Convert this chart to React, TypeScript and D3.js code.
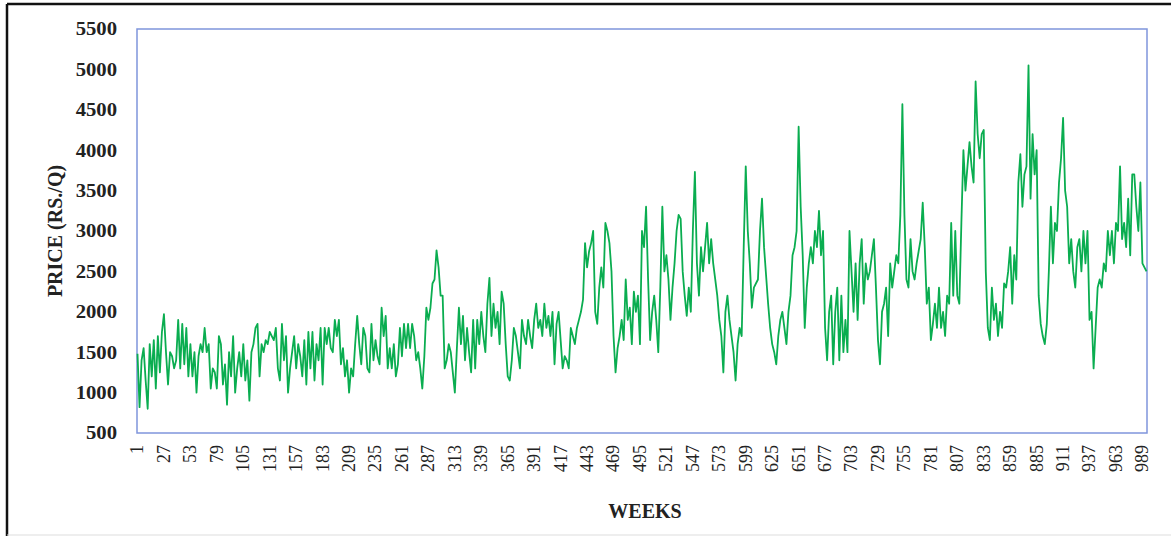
import * as d3 from "d3";

// weekly prices (Rs./Q), read every second week from the chart
const pricesA = [
  1480, 820, 1400, 1550, 1150, 800, 1600, 1200, 1650, 1050, 1700, 1250, 1750,
  1970, 1500, 1100, 1500, 1450, 1300, 1400, 1900, 1300, 1850, 1350, 1800, 1200,
  1600, 1200, 1500, 1000, 1450, 1600, 1500, 1800, 1500, 1600, 1050, 1300, 1250,
  1050, 1700, 1600, 1100, 1350, 850, 1500, 1200, 1700, 1000, 1300, 1500, 1200,
  1600, 1150, 1400, 900, 1500, 1600, 1800, 1850, 1200, 1600, 1500, 1650, 1600,
  1750, 1700, 1650, 1800, 1300, 1150, 1850, 1400, 1700, 1000, 1300, 1500, 1700,
  1300, 1600, 1450, 1200, 1650, 1100, 1750, 1300, 1750, 1150, 1600, 1400, 1800,
  1100, 1800, 1600, 1800, 1550, 1500, 1900, 1700, 1900, 1350, 1550, 1200, 1400,
  1000, 1300, 1200, 1600, 1950, 1600, 1350, 1800, 1700, 1300, 1250, 1850, 1400,
  1650, 1450, 1350, 2050, 1700, 1950, 1300, 1550, 1300, 1600, 1200, 1350, 1800,
];
const pricesB = [
  1450, 1850, 1550, 1850, 1550, 1850, 1700, 1400, 1500, 1300, 1050, 1450, 2050,
  1900, 2050, 2350, 2400, 2760, 2550, 2200, 2200, 1300, 1400, 1600, 1500, 1250,
  1000, 1550, 2050, 1600, 1950, 1400, 1800, 1500, 1250, 1900, 1300, 1900, 1600,
  2000, 1700, 1500, 2100, 2420, 1700, 2100, 1800, 2000, 1600, 2250, 2100, 1600,
  1200, 1150, 1400, 1800, 1700, 1500, 1300, 1900, 1700, 1600, 1900, 1700, 1550,
  1900, 2100, 1800, 1900, 1700, 2100, 1800, 1950, 1700, 2000, 1350, 1850, 2000,
  1650, 1300, 1450, 1400, 1300, 1800, 1700, 1600, 1800, 1900, 2000, 2150, 2850,
  2550, 2750, 2850, 3000, 2000, 1850, 2300, 2550, 2300, 3100, 3000, 2850, 2500,
  1700, 1250, 1550, 1700, 1900, 1650, 2400, 1900, 2050, 1600, 2250, 2000, 2200,
  1600, 3000, 2800, 3300, 2400, 1650, 2000, 2200, 1900, 1500, 2300, 3300, 2500,
];
const pricesC = [
  2700, 2400, 1900, 2300, 2600, 3000, 3200, 3150, 2500, 2200, 1950, 2300, 2000,
  3000, 3730, 2600, 2200, 2800, 2500, 2800, 3100, 2600, 2900, 2600, 2400, 2200,
  1900, 1700, 1250, 2000, 2200, 1900, 1700, 1500, 1150, 1600, 1800, 1700, 2800,
  3800, 3000, 2600, 2050, 2300, 2350, 2400, 3000, 3400, 2800, 2450, 2100, 1800,
  1600, 1500, 1350, 1700, 1900, 2000, 1800, 1600, 2000, 2200, 2700, 2800, 3000,
  4290, 3300, 2700, 1800, 2300, 2600, 2800, 2600, 3000, 2800, 3250, 2700, 3000,
  1800, 1400, 2000, 2200, 1350, 2000, 2300, 1400, 2200, 1500, 1900, 1500, 3000,
  2500, 2000, 2600, 1900, 2600, 2900, 2100, 2600, 2400, 2500, 2700, 2900, 2300,
  1650, 1350, 2000, 2100, 2300, 1700, 2600, 2300, 2500, 2700, 2600, 3200, 4570,
  3200, 2400, 2300, 2900, 2500, 2400, 2600, 2750, 2900, 3350, 2800, 2100, 2300,
];
const pricesD = [
  1650, 1850, 2100, 1800, 2300, 1800, 2000, 1700, 2200, 2100, 3100, 2200, 3000,
  2200, 2100, 3100, 4000, 3500, 3800, 4100, 3800, 3600, 4850, 4200, 3900, 4200,
  4250, 2500, 1800, 1650, 2300, 1900, 2100, 1700, 2000, 1800, 2350, 2300, 2500,
  2800, 2100, 2700, 2400, 3600, 3950, 3300, 3700, 3800, 5050, 3400, 4200, 3700,
  4000, 2200, 1850, 1700, 1600, 1850, 2500, 3300, 2600, 3100, 3000, 3600, 3900,
  4400, 3500, 3300, 2600, 2900, 2500, 2300, 2800, 2900, 2500, 3000, 2600, 3000,
  1900, 2000, 1300, 1800, 2300, 2400, 2300, 2600, 2500, 3000, 2700, 3000, 2600,
  3100, 3000, 3800, 2900, 3100, 2800, 3400, 2700, 3700, 3700, 3300, 3000, 3600,
  2600, 2550, 2500,
];

const yTicks = [500, 1000, 1500, 2000, 2500, 3000, 3500, 4000, 4500, 5000, 5500];
const xTickLabels = [
  1, 27, 53, 79, 105, 131, 157, 183, 209, 235, 261, 287, 313, 339, 365, 391, 417,
  443, 469, 495, 521, 547, 573, 599, 625, 651, 677, 703, 729, 755, 781, 807, 833,
  859, 885, 911, 937, 963, 989,
];

const N_WEEKS = 993;
const WIDTH = 1171;
const HEIGHT = 536;
const PLOT = { left: 137, right: 1147, top: 29, bottom: 433 };
const FONT = "'Liberation Serif', 'Times New Roman', serif";

type Point = { week: number; price: number };

const prices = [...pricesA, ...pricesB, ...pricesC, ...pricesD];
const data: Point[] = prices.map((p, i) => ({ week: 1 + 2 * i, price: p }));

export default function App() {
  const x = d3
    .scaleLinear()
    .domain([0.5, N_WEEKS + 0.5])
    .range([PLOT.left, PLOT.right]);
  const y = d3
    .scaleLinear()
    .domain([500, 5500])
    .range([PLOT.bottom, PLOT.top]);

  const line = d3
    .line<Point>()
    .x((d) => x(d.week))
    .y((d) => y(d.price));

  return (
    <svg
      width={WIDTH}
      height={HEIGHT}
      style={{ position: "absolute", left: 0, top: 0, background: "#fff" }}
    >
      {/* outer frame */}
      <line x1={7} x2={WIDTH} y1={4} y2={4} stroke="#111" strokeWidth={2.5} />
      <line x1={7} x2={7} y1={4} y2={HEIGHT} stroke="#111" strokeWidth={2.5} />
      <line x1={7} x2={WIDTH} y1={535} y2={535} stroke="#ddd" strokeWidth={1} />

      {/* plot border */}
      <rect
        x={PLOT.left}
        y={PLOT.top}
        width={PLOT.right - PLOT.left}
        height={PLOT.bottom - PLOT.top}
        fill="none"
        stroke="#7f95dc"
        strokeWidth={1.5}
      />

      <path
        d={line(data) || ""}
        fill="none"
        stroke="#0aad50"
        strokeWidth={1.8}
        strokeLinejoin="round"
      />

      {/* y axis labels */}
      {yTicks.map((t) => (
        <g key={t} transform={`translate(117,${y(t)}) scale(1.15,1)`}>
          <text
            textAnchor="end"
            dy="0.35em"
            fontFamily={FONT}
            fontWeight="bold"
            fontSize={18}
            fill="#222"
          >
            {t}
          </text>
        </g>
      ))}

      {/* x axis labels */}
      {xTickLabels.map((t) => (
        <text
          key={t}
          transform={`translate(${x(t)},${PLOT.bottom + 12}) rotate(-90)`}
          textAnchor="end"
          dy="0.33em"
          fontFamily={FONT}
          fontSize={18}
          fill="#222"
        >
          {t}
        </text>
      ))}

      <text
        transform={`translate(62,${(PLOT.top + PLOT.bottom) / 2}) rotate(-90)`}
        textAnchor="middle"
        fontFamily={FONT}
        fontWeight="bold"
        fontSize={20}
        fill="#222"
      >
        PRICE (RS./Q)
      </text>
      <text
        x={645}
        y={518}
        textAnchor="middle"
        fontFamily={FONT}
        fontWeight="bold"
        fontSize={20}
        fill="#222"
      >
        WEEKS
      </text>
    </svg>
  );
}
